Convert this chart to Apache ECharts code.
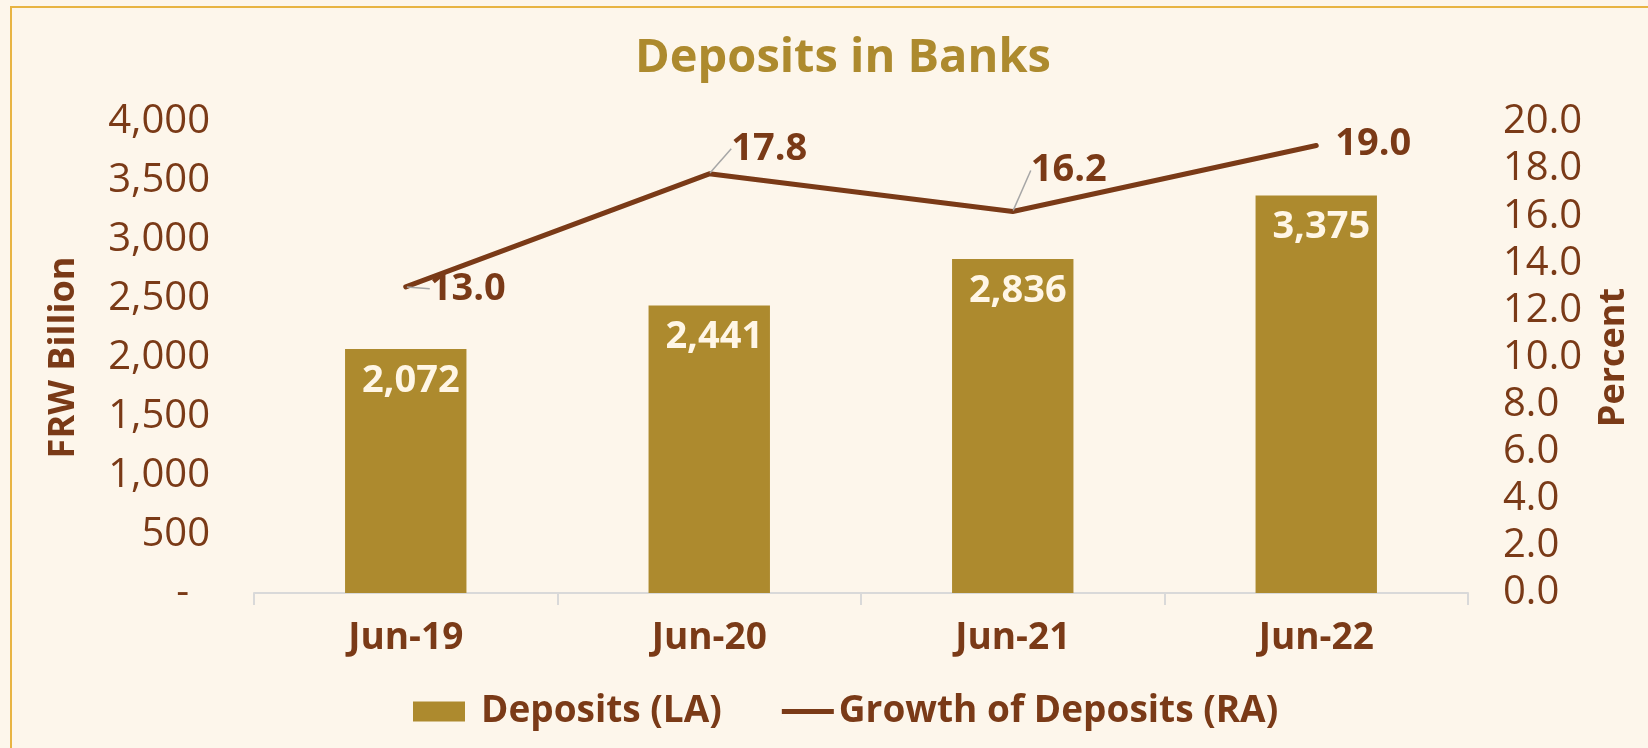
<!DOCTYPE html>
<html>
<head>
<meta charset="utf-8">
<script src="https://cdn.jsdelivr.net/npm/echarts@6/dist/echarts.min.js"></script>
<style>
  html, body { margin: 0; padding: 0; background: #FDF6EB; }
  #chart { width: 1648px; height: 748px; }
</style>
</head>
<body>
<div id="chart"></div>
<script>
// ---- Data ----
const categories = ['Jun-19', 'Jun-20', 'Jun-21', 'Jun-22'];
const deposits = [2072, 2441, 2836, 3375];          // FRW Billion (left axis)
const growth = [13.0, 17.8, 16.2, 19.0];             // Percent (right axis)
const leftTicks = { min: 0, max: 4000, interval: 500 };
const rightTicks = { min: 0, max: 20, interval: 2 };

// label nudges (styling only)
const lineLabelDx = [-2, -4, -8, -7];
const lineLabelDy = [2, -25, -41, -1];
const showLeader = [true, true, true, false];

const BROWN = '#7A3A17';
const GOLD = '#AD8A2E';
const FONT = '"Open Sans", "Noto Sans", sans-serif';

const chart = echarts.init(document.getElementById('chart'), null, { renderer: 'canvas' });

function fmtThousands(v) {
  if (v === 0) return '-  ';
  return v.toString().replace(/\B(?=(\d{3})+(?!\d))/g, ',');
}

const option = {
  backgroundColor: '#FDF6EB',
  animation: false,
  textStyle: { fontFamily: FONT },
  graphic: [{
    type: 'rect',
    silent: true,
    shape: { x: 11, y: 7, width: 1700, height: 800 },
    style: { fill: 'none', stroke: '#E8B443', lineWidth: 2 }
  }],
  title: {
    text: 'Deposits in Banks',
    left: 630,
    top: 30,
    textStyle: { fontFamily: FONT, fontSize: 47, fontWeight: 'bold', color: GOLD }
  },
  legend: {
    left: 408,
    top: 688,
    itemWidth: 52,
    itemHeight: 20,
    itemGap: 60,
    textStyle: { fontFamily: FONT, fontSize: 37, fontWeight: 'bold', color: BROWN },
    data: [
      { name: 'Deposits (LA)', icon: 'rect', textStyle: { padding: [0, 0, 0, 11] } },
      { name: 'Growth of Deposits (RA)', icon: 'path://M0,0h0.01v20h-0.01z M0,7.5h52v5h-52z', itemStyle: { color: BROWN } }
    ]
  },
  grid: { left: 254, right: 180, top: 122, bottom: 155, containLabel: false },
  xAxis: {
    type: 'category',
    data: categories,
    axisLine: { show: true, lineStyle: { color: '#D9D9D9', width: 2 } },
    axisTick: { show: true, length: 12, lineStyle: { color: '#D9D9D9', width: 2 } },
    axisLabel: { margin: 27, fontFamily: FONT, fontSize: 37, fontWeight: 'bold', color: BROWN }
  },
  yAxis: [
    {
      type: 'value',
      min: leftTicks.min, max: leftTicks.max, interval: leftTicks.interval,
      name: 'FRW Billion',
      nameLocation: 'middle',
      nameRotate: 90,
      nameGap: 172,
      nameTextStyle: { fontFamily: FONT, fontSize: 36, fontWeight: 'bold', color: BROWN },
      axisLine: { show: false },
      axisTick: { show: false },
      splitLine: { show: false },
      axisLabel: { margin: 44, fontFamily: FONT, fontSize: 40, color: BROWN, formatter: fmtThousands }
    },
    {
      type: 'value',
      min: rightTicks.min, max: rightTicks.max, interval: rightTicks.interval,
      name: 'Percent',
      nameLocation: 'middle',
      nameRotate: 90,
      nameGap: 128,
      nameTextStyle: { fontFamily: FONT, fontSize: 36, fontWeight: 'bold', color: BROWN },
      axisLine: { show: false },
      axisTick: { show: false },
      splitLine: { show: false },
      axisLabel: { margin: 35, fontFamily: FONT, fontSize: 40, color: BROWN, formatter: v => v.toFixed(1) }
    }
  ],
  series: [
    {
      name: 'Deposits (LA)',
      type: 'bar',
      yAxisIndex: 0,
      data: deposits,
      barWidth: '40%',
      itemStyle: { color: GOLD },
      label: {
        show: true,
        position: 'insideTop',
        distance: 13,
        offset: [5, 0],
        fontFamily: FONT,
        fontSize: 38,
        fontWeight: 'bold',
        color: '#FFF6E6',
        formatter: p => fmtThousands(p.value)
      }
    },
    {
      name: 'Growth of Deposits (RA)',
      type: 'line',
      yAxisIndex: 1,
      data: growth.map((v, i) => ({ value: v, labelLine: { show: showLeader[i] } })),
      symbol: 'circle',
      symbolSize: 2,
      showSymbol: true,
      itemStyle: { color: BROWN },
      lineStyle: { color: BROWN, width: 5, cap: 'round', join: 'round' },
      label: {
        show: true,
        position: 'right',
        distance: 25,
        fontFamily: FONT,
        fontSize: 38,
        fontWeight: 'bold',
        color: BROWN,
        formatter: p => p.value.toFixed(1)
      },
      labelLine: { show: true, lineStyle: { color: '#A6A6A6', width: 1.5 } },
      labelLayout: p => ({ dx: lineLabelDx[p.dataIndex], dy: lineLabelDy[p.dataIndex] })
    }
  ]
};

chart.setOption(option);
</script>
</body>
</html>
